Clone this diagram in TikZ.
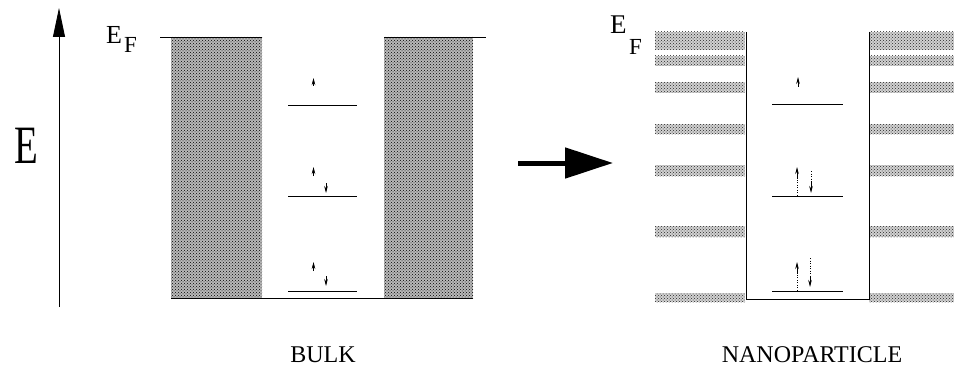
\documentclass[tikz,border=0pt]{standalone}
\usepackage{fontspec}
\setmainfont{Liberation Serif}
\usetikzlibrary{patterns,arrows.meta}
\begin{document}
\begin{tikzpicture}[x=1pt,y=-1pt,
  thinline/.style={line width=0.8pt, black},
  bulkfill/.style={fill=black!28},
  bulkdots/.style={pattern=crosshatch dots, pattern color=black},
  nanofill/.style={fill=black!18},
  nanodots/.style={pattern=crosshatch dots, pattern color=black!85},
  spinhead/.style={line width=0.6pt, -{Stealth[length=7pt,width=3.5pt]}},
  spinstem/.style={line width=0.5pt, dotted},
  bigarrow/.style={line width=5pt, -{Triangle[length=48pt,width=30pt]}},
  axisarrow/.style={line width=0.8pt, -{Triangle[length=29pt,width=12pt]}},
  lbl/.style={inner sep=0pt, font=\fontsize{24}{24}\selectfont}
]
\useasboundingbox (0,0) rectangle (954,369);

% energy axis
\coordinate (axb) at (59,307);
\coordinate (axt) at (59,8);
\draw[axisarrow] (axb) -- (axt);
\node[inner sep=0pt, anchor=base west, font=\fontsize{54}{54}\selectfont] (E) at (14,164) {\scalebox{0.72}[1]{E}};

% bulk
\node[inner sep=0pt, anchor=base west, font=\fontsize{26}{26}\selectfont] (EF1) at (106,44) {E};
\node[inner sep=0pt, anchor=base west, font=\fontsize{23}{23}\selectfont] (EF1s) at (124,53) {F};
\foreach \x/\y in {171/262,384/473}{
  \path[bulkfill] (\x,37) rectangle (\y,298);
  \path[bulkdots] (\x,37) rectangle (\y,298);
}
\draw[thinline] (160,37) -- (262,37);
\draw[thinline] (384,37) -- (486,37);
\draw[thinline] (171,298.5) -- (473,298.5);
\draw[thinline] (288,105) -- (357,105);
\draw[thinline] (288,196) -- (357,196);
\draw[thinline] (288,291) -- (357,291);
\draw[spinhead] (313.5,86) -- (313.5,78);
\draw[spinhead] (313.5,176) -- (313.5,167);
\draw[spinhead] (326,183) -- (326,193);
\draw[spinhead] (313.5,271) -- (313.5,262);
\draw[spinhead] (326,276) -- (326,286);
\node[lbl, anchor=base] (bulk) at (323,362) {BULK};

% big arrow
\coordinate (ba) at (518,163);
\coordinate (bb) at (613,163);
\draw[bigarrow] (ba) -- (bb);

% nanoparticle
\node[inner sep=0pt, anchor=base west, font=\fontsize{27}{27}\selectfont] (EF2) at (610,34) {E};
\node[inner sep=0pt, anchor=base west, font=\fontsize{23}{23}\selectfont] (EF2s) at (629,55) {F};
\foreach \a/\b in {32/50,56/66,82/93,124/134,165/176,226/237,293/302}{
  \path[nanofill] (655,\a) rectangle (745,\b);
  \path[nanodots] (655,\a) rectangle (745,\b);
  \path[nanofill] (869,\a) rectangle (954,\b);
  \path[nanodots] (869,\a) rectangle (954,\b);
}
\draw[thinline] (746,32) -- (746,299) -- (869,299) -- (869,32);
\draw[thinline] (772,104) -- (843,104);
\draw[thinline] (772,196) -- (843,196);
\draw[thinline] (772,291) -- (843,291);
\draw[spinhead] (798,87) -- (798,77);
\draw[spinstem] (797,195) -- (797,178);
\draw[spinhead] (797,179) -- (797,167);
\draw[spinstem] (811,171) -- (811,182);
\draw[spinhead] (811,181) -- (811,193);
\draw[spinstem] (797,290) -- (797,273);
\draw[spinhead] (797,274) -- (797,262);
\draw[spinstem] (810,258) -- (810,277);
\draw[spinhead] (810,276) -- (810,287);
\node[lbl, anchor=base] (nano) at (812,362) {NANOPARTICLE};
\end{tikzpicture}
\end{document}
